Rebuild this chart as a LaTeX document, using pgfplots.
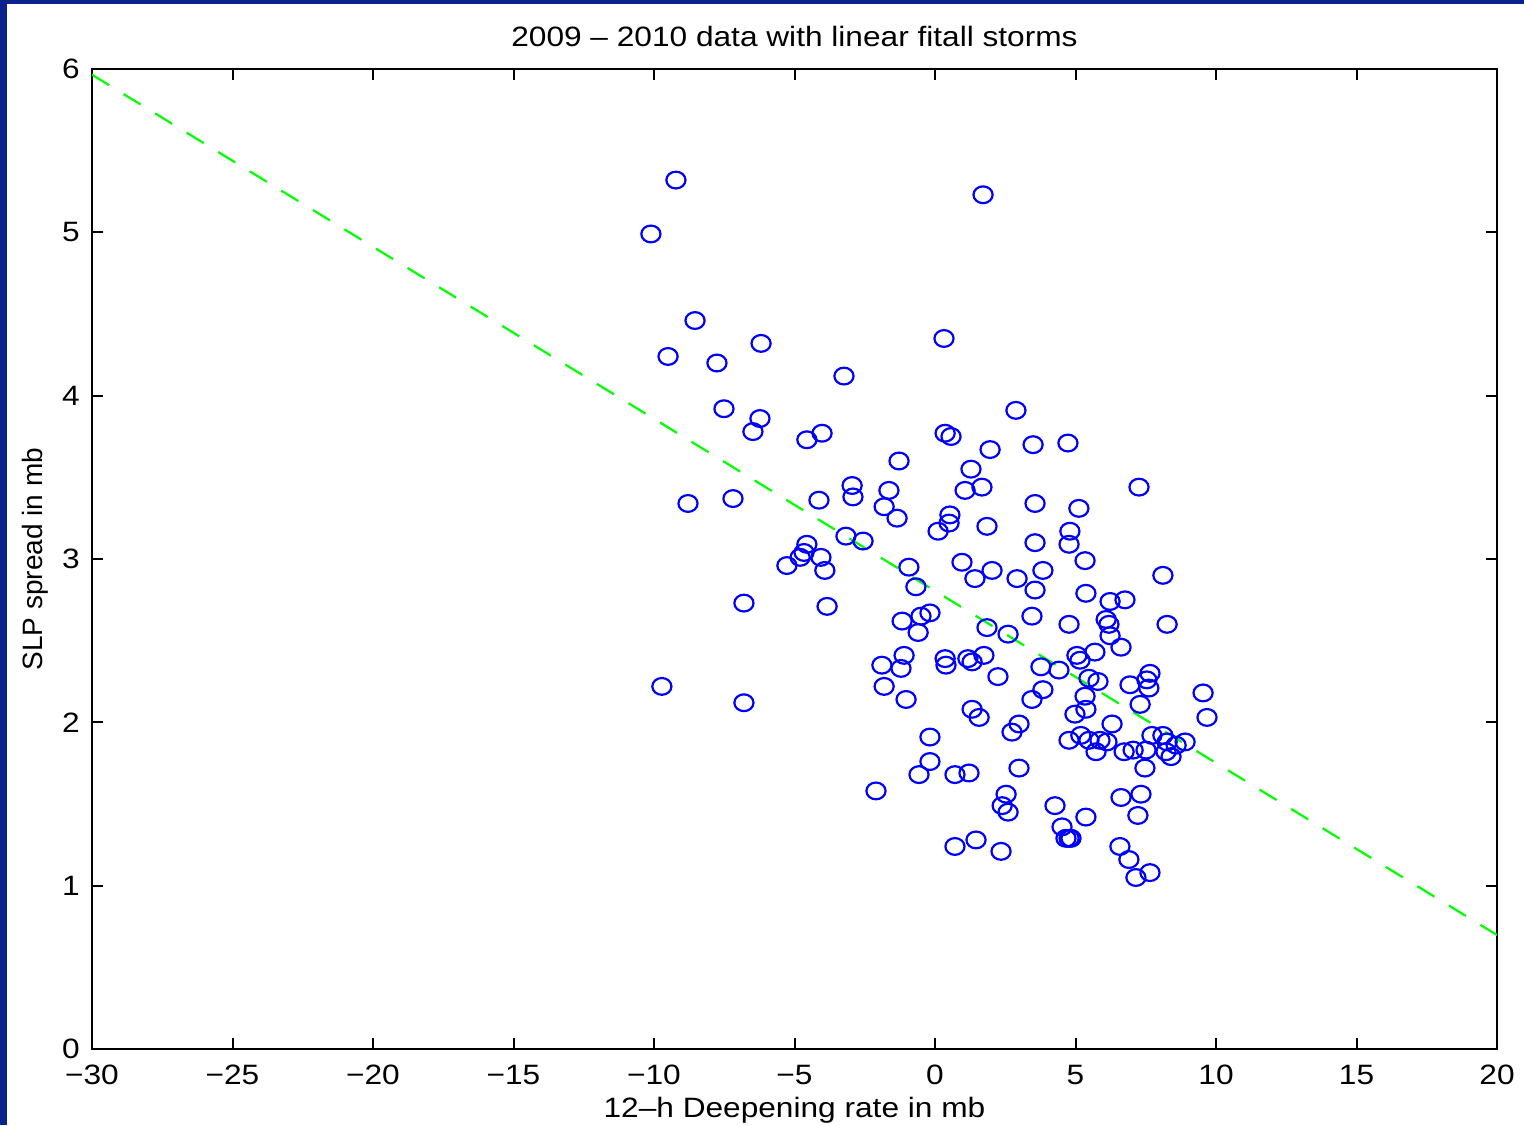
\documentclass[border=0pt]{standalone}
\usepackage{fontspec}
\setmainfont{Liberation Sans}[FakeStretch=1.13]
\newfontfamily\plainfont{Liberation Sans}
\usepackage{pgfplots}
\pgfplotsset{compat=1.18}
\definecolor{navyframe}{RGB}{10,35,140}
\definecolor{mblue}{RGB}{0,0,255}
\definecolor{mgreen}{RGB}{0,255,0}
\pgfplotstableread{
x y
-9.22 5.32
-10.11 4.99
1.71 5.23
-8.54 4.46
-9.50 4.24
-7.76 4.20
-6.19 4.32
0.32 4.35
-3.24 4.12
-7.51 3.92
-6.23 3.86
-6.48 3.78
-4.56 3.73
-4.02 3.77
2.88 3.91
0.36 3.77
0.57 3.75
1.96 3.67
3.49 3.70
4.73 3.71
-1.28 3.60
1.28 3.55
7.26 3.44
-8.79 3.34
-7.19 3.37
-4.13 3.36
-2.95 3.45
-2.92 3.38
-1.64 3.42
-1.81 3.32
-1.35 3.25
1.07 3.42
1.67 3.44
0.53 3.27
0.50 3.22
0.11 3.17
1.85 3.20
3.56 3.34
5.12 3.31
4.80 3.17
4.77 3.09
3.56 3.10
5.34 2.99
-3.17 3.14
-2.56 3.11
-4.56 3.09
-4.66 3.04
-4.80 3.01
-5.27 2.96
-4.06 3.01
-3.92 2.93
-0.93 2.95
-0.68 2.83
0.96 2.98
1.42 2.88
2.03 2.93
2.92 2.88
3.84 2.93
3.56 2.81
5.37 2.79
-6.80 2.73
-3.84 2.71
6.23 2.74
6.76 2.75
8.11 2.90
6.09 2.63
6.19 2.60
6.23 2.53
6.62 2.46
8.26 2.60
4.77 2.60
3.45 2.65
-0.18 2.67
-0.50 2.65
-1.17 2.62
-0.60 2.55
1.85 2.58
2.60 2.54
5.69 2.43
5.05 2.41
5.16 2.38
-1.10 2.41
-1.89 2.35
-1.21 2.33
0.36 2.39
0.39 2.35
1.17 2.39
1.32 2.37
1.74 2.41
3.77 2.34
4.41 2.32
2.24 2.28
5.48 2.27
5.80 2.25
7.65 2.30
7.54 2.26
7.61 2.21
6.94 2.23
9.54 2.18
-1.81 2.22
-9.72 2.22
3.84 2.20
3.45 2.14
5.34 2.16
-1.03 2.14
-6.80 2.12
7.30 2.11
5.37 2.08
4.98 2.05
1.32 2.08
1.57 2.03
9.68 2.03
6.30 1.99
2.99 1.99
2.74 1.94
-0.18 1.91
5.19 1.92
4.77 1.89
5.48 1.89
5.87 1.89
6.12 1.88
7.72 1.92
8.11 1.92
8.26 1.88
8.58 1.86
8.90 1.88
5.73 1.82
6.73 1.82
7.05 1.83
7.51 1.83
8.22 1.82
8.40 1.79
-0.18 1.76
2.99 1.72
7.47 1.72
-0.57 1.68
0.71 1.68
1.21 1.69
-2.10 1.58
2.53 1.56
6.62 1.54
7.33 1.56
2.39 1.49
2.60 1.45
4.27 1.49
7.22 1.43
5.37 1.42
4.52 1.36
4.66 1.29
4.77 1.29
4.84 1.29
0.71 1.24
1.46 1.28
2.35 1.21
6.58 1.24
6.90 1.16
7.15 1.05
7.65 1.08
}\storms
\begin{document}
\fontsize{14pt}{17pt}\selectfont
\begin{tikzpicture}
\useasboundingbox (0,0) rectangle (762pt,562.5pt);
\fill[white] (0,0) rectangle (762pt,562.5pt);
\fill[navyframe] (0,0) rectangle (3.5pt,562.5pt);
\fill[navyframe] (0,560.5pt) rectangle (762pt,562.5pt);
\begin{axis}[
  at={(46pt,38pt)}, anchor=south west,
  scale only axis, width=702.5pt, height=490pt,
  xmin=-30, xmax=20, ymin=0, ymax=6,
  xtick={-30,-25,...,20}, ytick={0,1,...,6},
  xticklabels={−30,−25,−20,−15,−10,−5,0,5,10,15,20},
  yticklabels={0,1,2,3,4,5,6},
  xtick pos=both, ytick pos=both,
  tick align=inside, major tick length=5.5pt,
  axis line style={line width=1pt},
  every tick/.style={black, line width=1pt},
  xticklabel style={anchor=base, yshift=-17.5pt},
  yticklabel style={anchor=east, inner sep=0pt, xshift=-6pt},
  every axis title shift=0pt,
  title={2009 – 2010 data with linear fitall storms},
  title style={at={(axis description cs:0.5,1.0225)}, anchor=base},
  xlabel={12–h Deepening rate in mb},
  xlabel style={at={(axis description cs:0.5,-0.0694)}, anchor=base},
  ylabel={\plainfont SLP spread in mb},
  ylabel style={at={(axis description cs:-0.0349,0.5)}, anchor=base},
]
\addplot[mgreen, line width=1.1pt, dash pattern=on 10pt off 8.5pt] coordinates {(-30,5.965) (20,0.698)};
\addplot[only marks, mark=o, mark size=4.2pt, mark options={mblue, line width=1.1pt, xscale=1.14}] table[x=x,y=y] {\storms};
\end{axis}
\end{tikzpicture}
\end{document}
